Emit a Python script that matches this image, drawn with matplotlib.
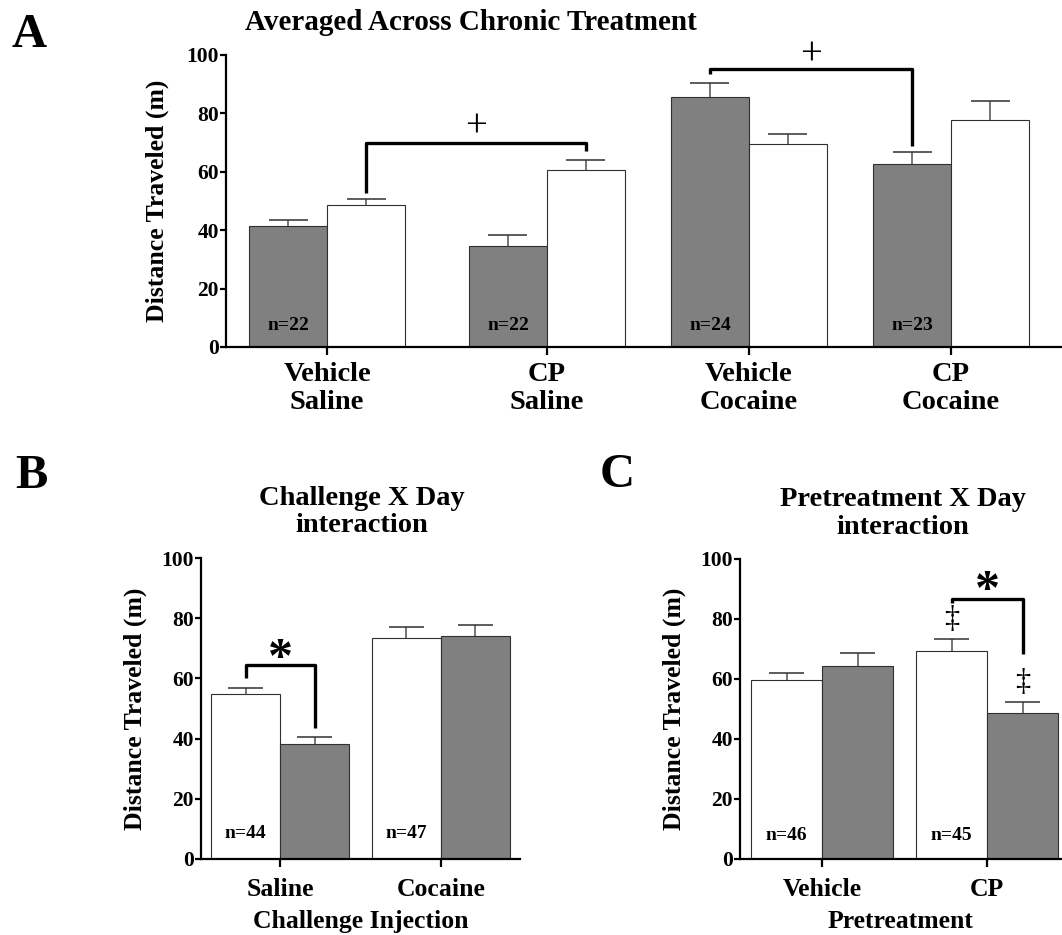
import matplotlib
matplotlib.use("Agg")
import matplotlib.pyplot as plt
import numpy as np

plt.rcParams['font.family'] = ['Liberation Serif', 'DejaVu Serif']
plt.rcParams['font.weight'] = 'bold'
plt.rcParams['axes.labelweight'] = 'bold'

# Panel A: averaged across chronic treatment
a_groups = ["Vehicle\nSaline", "CP\nSaline", "Vehicle\nCocaine", "CP\nCocaine"]
a_gray = [41.4, 34.5, 85.5, 62.6]
a_gray_err = [2.2, 4.0, 4.8, 4.3]
a_white = [48.7, 60.5, 69.6, 77.7]
a_white_err = [2.1, 3.4, 3.2, 6.5]
a_n = ["n=22", "n=22", "n=24", "n=23"]

# Panel B: challenge x day
b_groups = ["Saline", "Cocaine"]
b_white = [54.7, 73.3]
b_white_err = [2.1, 3.8]
b_gray = [38.1, 74.1]
b_gray_err = [2.3, 3.8]
b_n = ["n=44", "n=47"]

# Panel C: pretreatment x day
c_groups = ["Vehicle", "CP"]
c_white = [59.7, 69.4]
c_white_err = [2.4, 3.8]
c_gray = [64.4, 48.8]
c_gray_err = [4.4, 3.6]
c_n = ["n=46", "n=45"]

GRAY = "#808080"
W, H = 1062, 935


def make_axes(fig, left, top, right, bottom, unit):
    ax = fig.add_axes([left / W, 1 - bottom / H, (right - left) / W, (bottom - top) / H])
    ax.set_xlim(0, (right - left) / unit)
    ax.set_ylim(0, 100)
    for s in ("top", "right"):
        ax.spines[s].set_visible(False)
    for s in ("left", "bottom"):
        ax.spines[s].set_linewidth(1.6)
    ax.set_yticks(np.arange(0, 101, 20))
    ax.tick_params(axis="y", length=4, width=1.6, pad=1, labelsize=15.5)
    ax.tick_params(axis="x", length=6, width=1.6)
    return ax


def draw_bars(ax, x, vals, errs, color):
    ax.bar(x, vals, width=1.0, color=color, edgecolor="#303030", linewidth=0.8, zorder=2)
    tops = np.array(vals) + np.array(errs)
    ax.vlines(x, vals, tops, color="#505050", linewidth=1.1, zorder=3)
    ax.hlines(tops, np.array(x) - 0.25, np.array(x) + 0.25, color="#303030", linewidth=1.1, zorder=3)


def bracket(ax, x1, y1, x2, y2, ytop):
    ax.plot([x1, x1, x2, x2], [y1, ytop, ytop, y2], color="black", lw=2.4,
            solid_joinstyle="round", solid_capstyle="butt", clip_on=False, zorder=4)


fig = plt.figure(figsize=(W / 100, H / 100), dpi=100)

# ---- A ----
axA = make_axes(fig, 226, 55, 1062, 347, 78)
a_centers = np.array([1.295, 4.115, 6.705, 9.295])
draw_bars(axA, a_centers - 0.5, a_gray, a_gray_err, GRAY)
draw_bars(axA, a_centers + 0.5, a_white, a_white_err, "white")
for x, t in zip(a_centers - 0.5, a_n):
    axA.text(x, 7.5, t, ha="center", va="center", fontsize=14)
axA.set_xticks(a_centers)
axA.set_xticklabels(a_groups, fontsize=20.5, linespacing=1.12)
axA.tick_params(axis="x", pad=5)
axA.set_ylabel("Distance Traveled (m)", fontsize=18.5)
axA.yaxis.set_label_coords(-0.068, 0.5)
bracket(axA, a_centers[0] + 0.5, 52.8, a_centers[1] + 0.5, 67.1, 69.9)
bracket(axA, a_centers[2] - 0.5, 93.5, a_centers[3] - 0.5, 68.8, 95.2)
axA.text((a_centers[0] + a_centers[1]) / 2 + 0.5, 75.3, "+", ha="center", va="center",
         fontsize=28, fontweight="normal", clip_on=False)
axA.text((a_centers[2] + a_centers[3]) / 2 - 0.5, 100.0, "+", ha="center", va="center",
         fontsize=28, fontweight="normal", clip_on=False)
axA.text(0.293, 1.085, "Averaged Across Chronic Treatment", transform=axA.transAxes,
         ha="center", va="baseline", fontsize=21)
fig.text(12 / W, 1 - 47 / H, "A", ha="left", va="baseline", fontsize=35)

# ---- B ----
axB = make_axes(fig, 201, 558, 520, 859, 69)
b_centers = np.array([1.145, 3.478])
draw_bars(axB, b_centers - 0.5, b_white, b_white_err, "white")
draw_bars(axB, b_centers + 0.5, b_gray, b_gray_err, GRAY)
for x, t in zip(b_centers - 0.5, b_n):
    axB.text(x, 8.6, t, ha="center", va="center", fontsize=14)
axB.set_xticks(b_centers)
axB.set_xticklabels(b_groups, fontsize=18.5)
axB.tick_params(axis="x", pad=8)
axB.set_xlabel("Challenge Injection", fontsize=18.5, labelpad=6)
axB.set_ylabel("Distance Traveled (m)", fontsize=18.5)
axB.yaxis.set_label_coords(-0.169, 0.5)
bracket(axB, b_centers[0] - 0.5, 60.0, b_centers[0] + 0.5, 43.4, 64.6)
axB.text(b_centers[0], 66.0, "*", ha="center", va="center", fontsize=36)
axB.text(0.505, 1.085, "Challenge X Day\ninteraction", transform=axB.transAxes,
         ha="center", va="baseline", fontsize=20.5, linespacing=1.15)
fig.text(15 / W, 1 - 488 / H, "B", ha="left", va="baseline", fontsize=35)

# ---- C ----
axC = make_axes(fig, 740, 559, 1062, 859, 71)
c_centers = np.array([1.155, 3.479])
draw_bars(axC, c_centers - 0.5, c_white, c_white_err, "white")
draw_bars(axC, c_centers + 0.5, c_gray, c_gray_err, GRAY)
for x, t in zip(c_centers - 0.5, c_n):
    axC.text(x, 8.0, t, ha="center", va="center", fontsize=14)
axC.set_xticks(c_centers)
axC.set_xticklabels(c_groups, fontsize=18.5)
axC.tick_params(axis="x", pad=8)
axC.set_xlabel("Pretreatment", fontsize=18.5, labelpad=6)
axC.set_ylabel("Distance Traveled (m)", fontsize=18.5)
axC.yaxis.set_label_coords(-0.168, 0.5)
bracket(axC, c_centers[1] - 0.5, 85.2, c_centers[1] + 0.5, 68.5, 86.8)
axC.text(c_centers[1], 89.0, "*", ha="center", va="center", fontsize=36)
axC.text(c_centers[1] - 0.5, 79.7, "\u2021", ha="center", va="center", fontsize=22,
         fontweight="normal")
axC.text(c_centers[1] + 0.5, 59.0, "\u2021", ha="center", va="center", fontsize=22,
         fontweight="normal")
axC.text(0.506, 1.085, "Pretreatment X Day\ninteraction", transform=axC.transAxes,
         ha="center", va="baseline", fontsize=20.5, linespacing=1.15)
fig.text(600 / W, 1 - 487 / H, "C", ha="left", va="baseline", fontsize=35)

fig.savefig("out.png", dpi=100)
